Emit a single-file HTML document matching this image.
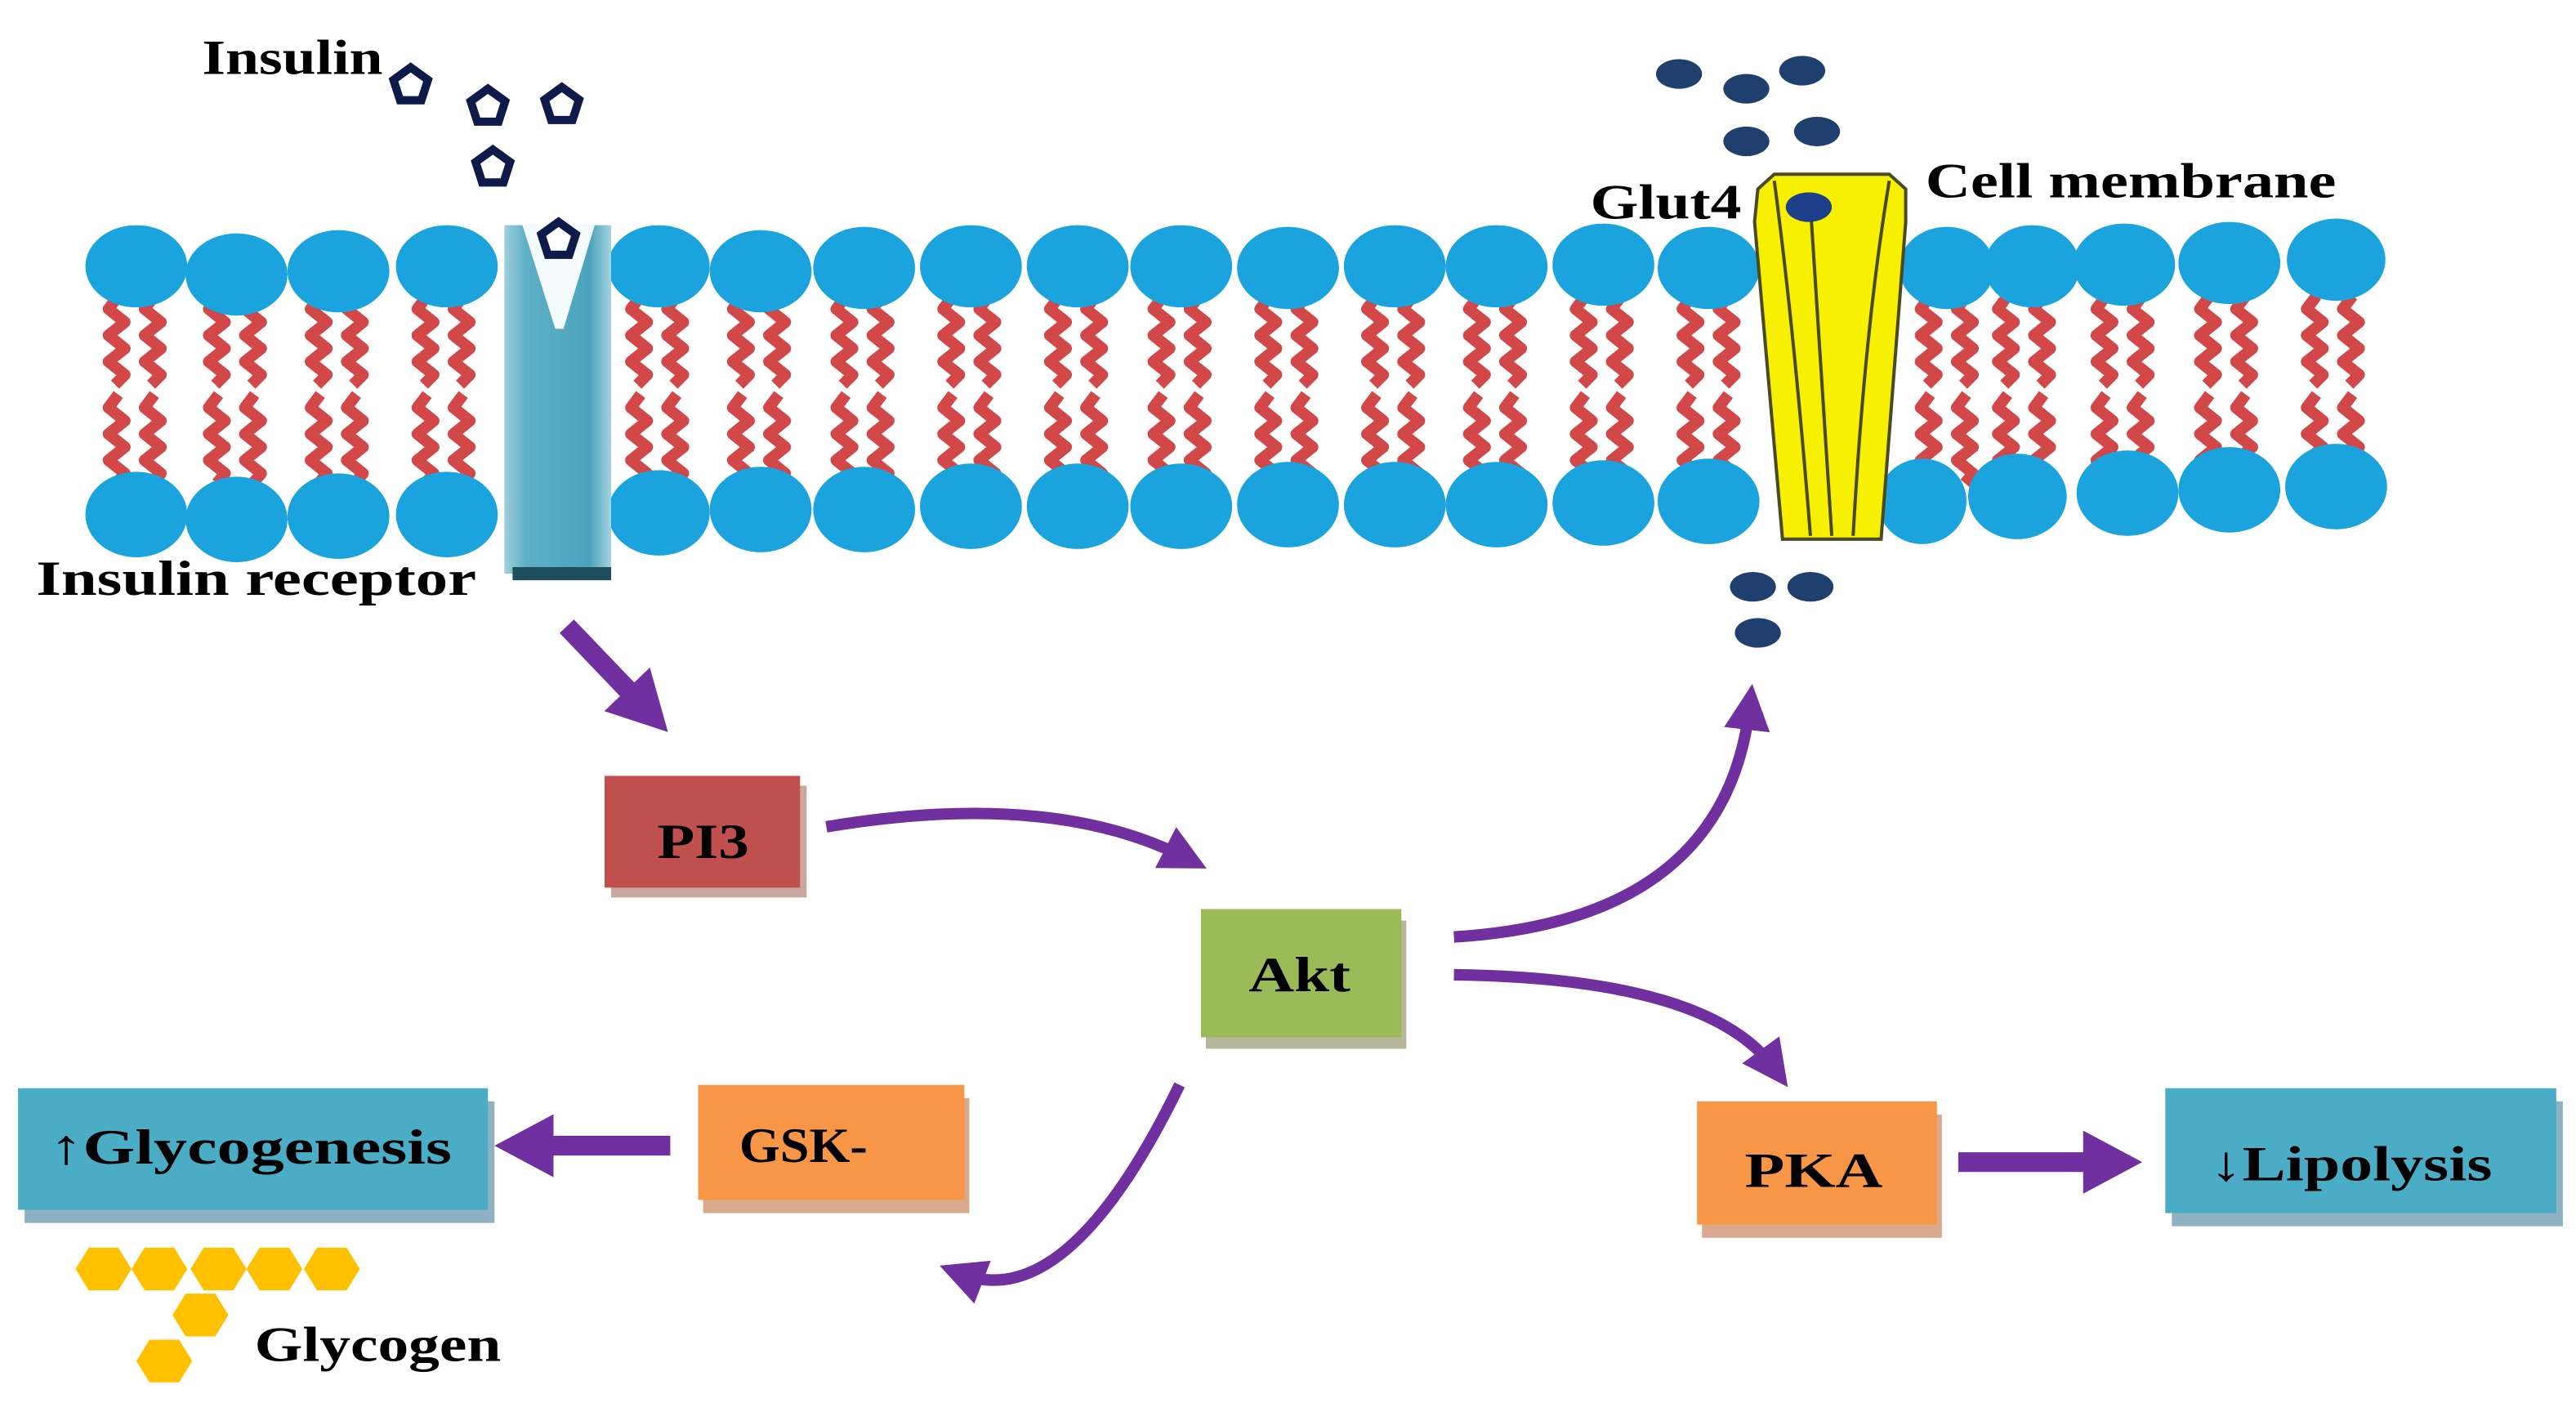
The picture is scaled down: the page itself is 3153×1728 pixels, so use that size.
<!DOCTYPE html>
<html><head><meta charset="utf-8"><style>
html,body{margin:0;padding:0;background:#fff;}
svg{display:block;}
text{font-family:"Liberation Serif",serif;font-weight:bold;fill:#000;}
</style></head><body>
<svg width="3153" height="1728" viewBox="0 0 1568 859" preserveAspectRatio="none" xmlns="http://www.w3.org/2000/svg">
<defs>
<linearGradient id="rec" x1="0" x2="1" y1="0" y2="0">
<stop offset="0" stop-color="#9fd0dc"/><stop offset="0.2" stop-color="#5fb0c6"/><stop offset="0.8" stop-color="#4aa3bd"/><stop offset="1" stop-color="#a6d4e0"/></linearGradient>
<g id="tail">
<polyline points="0,180 -6,188 4,196 -6,204 4,212 -6,220 4,228 -2,234" fill="none" stroke="#d24848" stroke-width="7" stroke-linejoin="round"/>
<polyline points="0,240 -6,248 4,256 -6,264 4,272 -6,280 4,288 -1,294" fill="none" stroke="#d24848" stroke-width="7" stroke-linejoin="round"/>
</g>
<g id="pent"><polygon points="0,-11 10.5,-3.4 6.5,9 -6.5,9 -10.5,-3.4" fill="#fff" stroke="#0e1a4a" stroke-width="5"/></g>
<polygon id="hex" points="-17,0 -9,-13 9,-13 17,0 9,13 -9,13" fill="#ffc000"/>
<marker id="ah" markerWidth="4" markerHeight="4" refX="2" refY="2" orient="auto" markerUnits="strokeWidth"><path d="M0,0 L4,2 L0,4 Z" fill="#7030a0"/></marker>
<marker id="ah2" markerWidth="3" markerHeight="3.2" refX="1" refY="1.6" orient="auto" markerUnits="strokeWidth"><path d="M0,0 L3,1.6 L0,3.2 Z" fill="#7030a0"/></marker>
</defs>

<g>
<use href="#tail" x="72"/><use href="#tail" x="94"/>
<use href="#tail" x="133"/><use href="#tail" x="155"/>
<use href="#tail" x="195"/><use href="#tail" x="217"/>
<use href="#tail" x="260"/><use href="#tail" x="282"/>
<use href="#tail" x="390"/><use href="#tail" x="412"/>
<use href="#tail" x="452"/><use href="#tail" x="474"/>
<use href="#tail" x="515"/><use href="#tail" x="537"/>
<use href="#tail" x="580"/><use href="#tail" x="602"/>
<use href="#tail" x="645"/><use href="#tail" x="667"/>
<use href="#tail" x="708"/><use href="#tail" x="730"/>
<use href="#tail" x="773"/><use href="#tail" x="795"/>
<use href="#tail" x="838"/><use href="#tail" x="860"/>
<use href="#tail" x="900"/><use href="#tail" x="922"/>
<use href="#tail" x="965"/><use href="#tail" x="987"/>
<use href="#tail" x="1030"/><use href="#tail" x="1052"/>
<use href="#tail" x="1175"/><use href="#tail" x="1197"/>
<use href="#tail" x="1222"/><use href="#tail" x="1244"/>
<use href="#tail" x="1282"/><use href="#tail" x="1304"/>
<use href="#tail" x="1345"/><use href="#tail" x="1367"/>
<use href="#tail" x="1410"/><use href="#tail" x="1432"/>
</g>
<g fill="#1aa3dd">
<ellipse cx="83" cy="162" rx="31" ry="25"/><ellipse cx="144" cy="167" rx="31" ry="25"/><ellipse cx="206" cy="165" rx="31" ry="25"/><ellipse cx="272" cy="162" rx="31" ry="25"/>
<ellipse cx="401" cy="162" rx="31" ry="25"/><ellipse cx="463" cy="165" rx="31" ry="25"/><ellipse cx="526" cy="163" rx="31" ry="25"/><ellipse cx="591" cy="162" rx="31" ry="25"/><ellipse cx="656" cy="162" rx="31" ry="25"/><ellipse cx="719" cy="162" rx="31" ry="25"/><ellipse cx="784" cy="163" rx="31" ry="25"/><ellipse cx="849" cy="162" rx="31" ry="25"/><ellipse cx="911" cy="162" rx="31" ry="25"/><ellipse cx="976" cy="161" rx="31" ry="25"/><ellipse cx="1040" cy="163" rx="31" ry="25"/>
<ellipse cx="1185" cy="163" rx="29" ry="25"/><ellipse cx="1237" cy="162" rx="29" ry="25"/><ellipse cx="1293" cy="161" rx="31" ry="25"/><ellipse cx="1357" cy="160" rx="31" ry="25"/><ellipse cx="1422" cy="158" rx="30" ry="25"/>
<ellipse cx="83" cy="313" rx="31" ry="26"/><ellipse cx="144" cy="316" rx="31" ry="26"/><ellipse cx="206" cy="314" rx="31" ry="26"/><ellipse cx="272" cy="313" rx="31" ry="26"/>
<ellipse cx="401" cy="312" rx="31" ry="26"/><ellipse cx="463" cy="310" rx="31" ry="26"/><ellipse cx="526" cy="310" rx="31" ry="26"/><ellipse cx="591" cy="308" rx="31" ry="26"/><ellipse cx="656" cy="308" rx="31" ry="26"/><ellipse cx="719" cy="308" rx="31" ry="26"/><ellipse cx="784" cy="307" rx="31" ry="26"/><ellipse cx="849" cy="307" rx="31" ry="26"/><ellipse cx="911" cy="307" rx="31" ry="26"/><ellipse cx="976" cy="306" rx="31" ry="26"/><ellipse cx="1040" cy="305" rx="31" ry="26"/>
<ellipse cx="1170" cy="305" rx="27" ry="26"/><ellipse cx="1228" cy="302" rx="30" ry="26"/><ellipse cx="1295" cy="300" rx="31" ry="26"/><ellipse cx="1357" cy="298" rx="31" ry="26"/><ellipse cx="1422" cy="296" rx="31" ry="26"/>
</g>

<rect x="307" y="137" width="65" height="212" fill="url(#rec)"/>
<polygon points="318,137 362,137 343,200 338,200" fill="#f4fbfd"/>
<rect x="312" y="345" width="60" height="8" fill="#1f4e5c"/>

<use href="#pent" x="250" y="52"/><use href="#pent" x="297" y="65"/><use href="#pent" x="342" y="64"/><use href="#pent" x="300" y="102"/><use href="#pent" x="340" y="146"/>

<path d="M1070,115 L1080,106 L1150,106 L1160,115 L1160,135 L1145,328 L1085,328 L1068,135 Z" fill="#f7f000" stroke="#4a4a20" stroke-width="2"/>
<path d="M1080,110 Q1092,200 1102,326 M1150,110 Q1135,200 1128,326 M1102,125 Q1108,220 1115,326" fill="none" stroke="#4a4a20" stroke-width="2"/>
<ellipse cx="1101" cy="126" rx="14" ry="9" fill="#1e3f8a"/>
<g fill="#1f3f6e">
<ellipse cx="1022" cy="45" rx="14" ry="9"/><ellipse cx="1063" cy="54" rx="14" ry="9"/><ellipse cx="1097" cy="43" rx="14" ry="9"/><ellipse cx="1063" cy="86" rx="14" ry="9"/><ellipse cx="1106" cy="80" rx="14" ry="9"/>
<ellipse cx="1067" cy="357" rx="14" ry="9"/><ellipse cx="1102" cy="357" rx="14" ry="9"/><ellipse cx="1070" cy="385" rx="14" ry="9"/>
</g>

<text x="123" y="45" font-size="30" textLength="110" lengthAdjust="spacingAndGlyphs">Insulin</text>
<text x="22" y="362" font-size="30" textLength="268" lengthAdjust="spacingAndGlyphs">Insulin  receptor</text>
<text x="968" y="133" font-size="30" textLength="92" lengthAdjust="spacingAndGlyphs">Glut4</text>
<text x="1172" y="120" font-size="30" textLength="250" lengthAdjust="spacingAndGlyphs">Cell membrane</text>

<g fill="none" stroke="#7030a0">
<line x1="345" y1="381" x2="390" y2="428" stroke-width="12" marker-end="url(#ah2)"/>
<path d="M503,503 Q640,480 722,522" stroke-width="7" marker-end="url(#ah)"/>
<path d="M885,570 Q1050,560 1065,430" stroke-width="7" marker-end="url(#ah)"/>
<path d="M885,593 Q1040,595 1080,650" stroke-width="7" marker-end="url(#ah)"/>
<path d="M718,660 Q650,800 585,775" stroke-width="7" marker-end="url(#ah)"/>
<line x1="408" y1="697" x2="325" y2="697" stroke-width="12" marker-end="url(#ah2)"/>
<line x1="1192" y1="707" x2="1280" y2="707" stroke-width="12" marker-end="url(#ah2)"/>
</g>

<rect x="372" y="478" width="119" height="68" fill="#c9a79e"/>
<rect x="368" y="472" width="119" height="68" fill="#c0504d"/>
<text x="400" y="522" font-size="30" textLength="56" lengthAdjust="spacingAndGlyphs">PI3</text>

<rect x="734" y="560" width="122" height="78" fill="#b7b59a"/>
<rect x="731" y="553" width="122" height="78" fill="#9bbb59"/>
<text x="760" y="603" font-size="30" textLength="62" lengthAdjust="spacingAndGlyphs">Akt</text>

<rect x="428" y="668" width="162" height="70" fill="#d8a98c"/>
<rect x="425" y="660" width="162" height="70" fill="#f79646"/>
<text x="450" y="707" font-size="30" textLength="78" lengthAdjust="spacingAndGlyphs">GSK-</text>

<rect x="15" y="670" width="286" height="74" fill="#8fb2c2"/>
<rect x="11" y="662" width="286" height="74" fill="#4bacc6"/>
<text x="30" y="708" font-size="30" textLength="245" lengthAdjust="spacingAndGlyphs">↑Glycogenesis</text>

<rect x="1036" y="678" width="146" height="75" fill="#d8a98c"/>
<rect x="1033" y="670" width="146" height="75" fill="#f79646"/>
<text x="1062" y="722" font-size="30" textLength="84" lengthAdjust="spacingAndGlyphs">PKA</text>

<rect x="1322" y="670" width="238" height="76" fill="#8fb2c2"/>
<rect x="1318" y="662" width="238" height="76" fill="#4bacc6"/>
<text x="1345" y="718" font-size="30" textLength="172" lengthAdjust="spacingAndGlyphs">↓Lipolysis</text>

<use href="#hex" x="63" y="772"/><use href="#hex" x="97" y="772"/><use href="#hex" x="133" y="772"/><use href="#hex" x="167" y="772"/><use href="#hex" x="202" y="772"/>
<use href="#hex" x="122" y="800"/><use href="#hex" x="100" y="828"/>
<text x="155" y="828" font-size="30" textLength="150" lengthAdjust="spacingAndGlyphs">Glycogen</text>
</svg>
</body></html>
